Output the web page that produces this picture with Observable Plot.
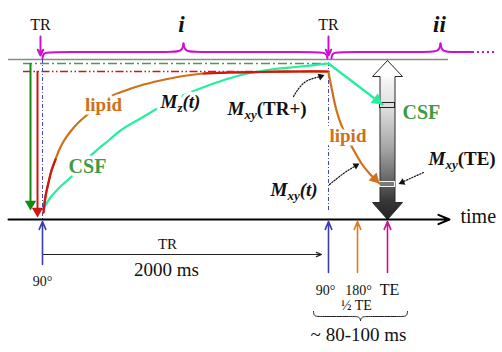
<!DOCTYPE html>
<html><head><meta charset="utf-8">
<script src="https://cdn.jsdelivr.net/npm/d3@7"></script>
<script src="https://cdn.jsdelivr.net/npm/@observablehq/plot@0.6"></script>
<style>html,body{margin:0;padding:0;background:#fff}#chart svg{display:block;overflow:visible}#chart svg text{font-family:'Liberation Serif',serif}</style>
</head><body><div id="chart"></div>
<script>
// ---- schematic data (diagram units: time to the right, magnetization upward = smaller y) ----
const t0 = 42, tTR = 328, tHalfTE = 357, tTE = 387;          // pulse times
const axisLevel = 219, topLevel = 59, csfLevel = 63, lipidLevel = 71;
const csfRise = [[43,208],[50,197],[60,186],[70,177],[85,160],[97,149],[108,140],[120,130],[140,118],[157,108],[172,100],[187,93],[205,86],[225,79],[247,73],[270,69],[300,66],[328,63]];
const lipidRise = [[43,212],[45,196],[48,182],[51,170],[55,159],[58,151],[63,141],[70,131],[78,122],[87,114],[98,104],[110,96],[125,90],[140,85],[160,80],[180,76],[203,73],[230,72],[260,71.5],[300,71],[328,71]];
const lipidDecay = [[328,72],[332,92],[336,110],[341,125],[347,138],[354,151],[361,163],[369,173],[379,183]];
const csfDecay = [[328,63],[382,104]];
const csfTE = 105, lipidTE = 184;                                // Mxy at TE on the big arrow
const pulses = [{x:t0, c:"#3c3cae", y1:264}, {x:tTR, c:"#3c3cae", y1:272}, {x:tHalfTE, c:"#e07b18", y1:272}, {x:tTE, c:"#c2139e", y1:272}];

const FONT = "Liberation Serif";
const ORANGE = "#d0701a", GREENTXT = "#3f9b3f", SPRING = "#27ee9c", RED = "#d01515", BLUE = "#4646c4", MAG = "#cc11cc";

const pts = a => a.map(([x,y]) => ({x,y}));
const ctx = document.createElement("canvas").getContext("2d");
function measure(t, size, weight, style){ ctx.font = `${style} ${weight} ${size}px 'Liberation Serif', serif`; return ctx.measureText(t).width; }
function rich(x, y, parts, color, anchor, halo){
  const w = parts.map(p => measure(p.t, p.size, p.weight||"normal", p.style||"normal"));
  let cx = anchor === "middle" ? x - d3.sum(w)/2 : x;
  return parts.map((p,i) => { const o = {...p, x:cx, y:y + (p.dy||0), color, halo}; cx += w[i]; return o; });
}
const M = (sub, rest, restStyle) => [
  {t:"M", size:19, weight:"bold", style:"italic"},
  {t:sub, size:13, weight:"bold", style:"italic", dy:4},
  {t:rest, size:19, weight:"bold", style:restStyle||"normal"}];
const B = (t,size) => [{t, size, weight:"bold"}];
const R = (t,size) => [{t, size}];

const pieces = [
  ...rich(103,110,B("lipid",19),ORANGE,"middle",true),
  ...rich(87,172,B("CSF",20),GREENTXT,"middle",true),
  ...rich(160,107,M("z","(t)","italic"),"#111","start",true),
  ...rich(227,114,M("xy","(TR+)"),"#111","start",true),
  ...rich(402,118,B("CSF",20),GREENTXT,"start",true),
  ...rich(329,141,B("lipid",19),ORANGE,"start",true),
  ...rich(428,164,M("xy","(TE)"),"#111","start",true),
  ...rich(270,195,M("xy","(t)","italic"),"#111","start",true),
  ...rich(40,29,R("TR",16),"#111","middle"),
  ...rich(328,29,R("TR",16),"#111","middle"),
  ...rich(181,31,[{t:"i",size:23,weight:"bold",style:"italic"}],"#111","middle"),
  ...rich(439,31,[{t:"ii",size:23,weight:"bold",style:"italic"}],"#111","middle"),
  ...rich(460,222,R("time",20),"#111","start"),
  ...rich(167,248,R("TR",15),"#111","middle"),
  ...rich(166,275,R("2000 ms",19),"#111","middle"),
  ...rich(42,285,R("90°",14),"#111","middle"),
  ...rich(325,294,R("90°",14),"#111","middle"),
  ...rich(358,294,R("180°",14),"#111","middle"),
  ...rich(389,294,R("TE",16),"#111","middle"),
  ...rich(356,309,R("½ TE",14),"#111","middle"),
  ...rich(358,340,R("~ 80-100 ms",19),"#111","middle")
];

// filled triangle arrow head placed at a tip, pointing away from "from"
function head(tip, from, r){
  const dx = tip[0]-from[0], dy = tip[1]-from[1], L = Math.hypot(dx,dy);
  const k = 2*Math.sqrt(Math.PI*r*r/(Math.sqrt(3)*3));
  return {x: tip[0]-dx/L*k, y: tip[1]-dy/L*k, rotate: Math.atan2(dx,-dy)*180/Math.PI, r};
}
const tri = (h, color) => Plot.dot([h], {x:"x", y:"y", rotate:"rotate", r:h.r, symbol:"triangle", fill:color, stroke:"none"});

// braces (control points, drawn with basis curve)
const braces = [
  {id:"i1", p:[[42,58],[42.5,51.5],[56,51.5],[166,51.5],[182,51.5],[183,43]]},
  {id:"i2", p:[[183,43],[184,51.5],[200,51.5],[312,51.5],[326,51.5],[327,58]]},
  {id:"ii1", p:[[331,58],[331.5,51.5],[345,51.5],[424,51.5],[439,51.5],[440,43]]},
  {id:"ii2", p:[[440,43],[441,51.5],[455,51.5],[472,51.5]]}
].flatMap(b => b.p.map(([x,y]) => ({x,y,id:b.id})));
const braceB = [
  {id:"a", p:[[313,311],[313.5,316],[320,316],[352,316],[359,316],[360,320]]},
  {id:"b", p:[[360,320],[361,316],[368,316],[400,316],[406.5,316],[407,311]]}
].flatMap(b => b.p.map(([x,y]) => ({x,y,id:b.id})));

// big double arrow outline
const bigA = {cx:tTE, top:60, headTop:76, headBot:202, bot:axisLevel, hw:15, sw:7.5};
const bigArrow = pts([
  [bigA.cx,bigA.top],[bigA.cx+bigA.hw,bigA.headTop],[bigA.cx+bigA.sw,bigA.headTop],[bigA.cx+bigA.sw,bigA.headBot],
  [bigA.cx+bigA.hw,bigA.headBot],[bigA.cx,bigA.bot],[bigA.cx-bigA.hw,bigA.headBot],[bigA.cx-bigA.sw,bigA.headBot],
  [bigA.cx-bigA.sw,bigA.headTop],[bigA.cx-bigA.hw,bigA.headTop],[bigA.cx,bigA.top]]);

const lipidPts = pts(lipidRise);
const lipidDecayHead = head(lipidDecay[lipidDecay.length-1], lipidDecay[lipidDecay.length-2], 4.2);

const marks = [
  Plot.ruleY([topLevel], {x1:8, x2:448, stroke:"#8a8a8a", strokeWidth:1.6}),
  Plot.ruleY([csfLevel], {x1:23, x2:tTR, stroke:"#4a9d4a", strokeWidth:1.3, strokeDasharray:"9,3,2,3"}),
  Plot.ruleY([lipidLevel], {x1:23, x2:tTR, stroke:RED, strokeWidth:1.3, strokeDasharray:"8,2.5,1.5,2.5,1.5,2.5"}),
  Plot.ruleX([t0], {y1:topLevel, y2:axisLevel, stroke:BLUE, strokeWidth:1, strokeDasharray:"4,2,1,2"}),
  Plot.ruleX([tTR], {y1:62, y2:212, stroke:BLUE, strokeWidth:1, strokeDasharray:"4,2,1,2"}),
  // big gradient double arrow
  Plot.line(bigArrow, {x:"x", y:"y", fill:"url(#bigGrad)", stroke:"#2a2a2a", strokeWidth:1, curve:"linear"}),
  Plot.rect([{y:csfTE}], {x1:bigA.cx-bigA.sw, x2:bigA.cx+bigA.sw, y1:d=>d.y-2.5, y2:d=>d.y+2.5, fill:"#dedede", stroke:"#222", strokeWidth:1}),
  Plot.rect([{y:lipidTE}], {x1:bigA.cx-bigA.sw, x2:bigA.cx+bigA.sw, y1:d=>d.y-2.5, y2:d=>d.y+2.5, fill:"#7a7a7a", stroke:"#f4f4f4", strokeWidth:1}),
  // recovery curves
  Plot.line(pts(csfRise), {x:"x", y:"y", stroke:SPRING, strokeWidth:2.2, curve:"catmull-rom"}),
  Plot.line(lipidPts, {x:"x", y:"y", stroke:ORANGE, strokeWidth:2.2, curve:"catmull-rom"}),
  Plot.line(lipidPts, {x:"x", y:"y", z:d=>d.x<=55?"a":"b", filter:d=>d.x<=55||d.x>=203, stroke:RED, strokeWidth:2.2, curve:"catmull-rom"}),
  // 90° flips
  Plot.ruleX([30], {y1:csfLevel, y2:203, stroke:"#128a12", strokeWidth:2}),
  tri(head([30,210],[30,100],4.2), "#128a12"),
  Plot.ruleX([37], {y1:lipidLevel, y2:210, stroke:RED, strokeWidth:2}),
  tri(head([37,217],[37,100],4.2), RED),
  // decays after TR
  Plot.line(pts(csfDecay), {x:"x", y:"y", stroke:SPRING, strokeWidth:2.2}),
  tri(head(csfDecay[1], csfDecay[0], 4.5), SPRING),
  Plot.line(pts(lipidDecay), {x:"x", y:"y", stroke:ORANGE, strokeWidth:2.2, curve:"catmull-rom"}),
  tri(lipidDecayHead, ORANGE),
  // time axis
  Plot.arrow([0], {x1:8, y1:axisLevel, x2:449, y2:axisLevel, stroke:"#000", strokeWidth:2, headLength:9, headAngle:45}),
  // pulses
  ...pulses.map(p => Plot.arrow([p], {x1:"x", x2:"x", y1:"y1", y2:axisLevel+2, stroke:p.c, strokeWidth:1.6, headLength:8, headAngle:45})),
  // TR dimension
  Plot.arrow([0], {x1:43, y1:254, x2:321, y2:254, stroke:"#222", strokeWidth:1.2, headLength:7, headAngle:45}),
  // braces
  Plot.line(braces, {x:"x", y:"y", z:"id", stroke:MAG, strokeWidth:2, curve:"basis"}),
  Plot.ruleY([51.5], {x1:472, x2:497, stroke:MAG, strokeWidth:2, strokeDasharray:"2,3"}),
  Plot.line(braceB, {x:"x", y:"y", z:"id", stroke:"#222", strokeWidth:1, curve:"basis"}),
  Plot.arrow([0], {x1:40, y1:36, x2:40, y2:55, stroke:MAG, strokeWidth:2, headLength:8, headAngle:50}),
  Plot.arrow([0], {x1:tTR, y1:36, x2:tTR, y2:55, stroke:MAG, strokeWidth:2, headLength:8, headAngle:50}),
  // dotted pointers
  Plot.line(pts([[293,96],[304,82],[320,76]]), {x:"x", y:"y", stroke:"#111", strokeWidth:1.2, strokeDasharray:"1.3,1.6", curve:"natural"}),
  tri(head([324,74.5],[316,77.5],2.6), "#111"),
  Plot.line(pts([[329,184],[343,173],[354,166]]), {x:"x", y:"y", stroke:"#111", strokeWidth:1.2, strokeDasharray:"1.3,1.6", curve:"natural"}),
  tri(head([359,163],[352,167],2.6), "#111"),
  Plot.line(pts([[423,172],[403,181]]), {x:"x", y:"y", stroke:"#111", strokeWidth:1.2, strokeDasharray:"1.3,1.6"}),
  tri(head([398,183.5],[406,180],2.6), "#111")
];

// text: halos first, then glyphs
for (const pass of ["halo","fill"]) for (const p of pieces) {
  if (pass === "halo" && !p.halo) continue;
  marks.push(Plot.text([p], {
    x:"x", y:"y", text:"t", fontSize:p.size, fontWeight:p.weight||"normal", fontStyle:p.style||"normal",
    fontFamily:FONT, textAnchor:"start", lineAnchor:"bottom",
    fill: pass==="halo" ? "white" : p.color,
    ...(pass==="halo" ? {stroke:"white", strokeWidth:7, strokeLinejoin:"round"} : {})
  }));
}

const chart = Plot.plot({
  width:502, height:352, margin:0,
  x:{type:"linear", domain:[0,502], range:[0,502], axis:null},
  y:{type:"linear", domain:[0,352], range:[0,352], axis:null},
  style:{background:"#fff", fontFamily:FONT},
  marks
});
d3.select(chart).insert("defs", ":first-child").html(`
  <linearGradient id="bigGrad" x1="0" y1="0" x2="0" y2="1">
    <stop offset="0" stop-color="#ffffff"/><stop offset="0.1" stop-color="#ffffff"/>
    <stop offset="0.13" stop-color="#f3f3f3"/><stop offset="0.3" stop-color="#dedede"/>
    <stop offset="0.55" stop-color="#a6a6a6"/><stop offset="0.75" stop-color="#666"/>
    <stop offset="0.88" stop-color="#383838"/><stop offset="1" stop-color="#222"/>
  </linearGradient>`);
document.getElementById("chart").append(chart);
</script></body></html>
